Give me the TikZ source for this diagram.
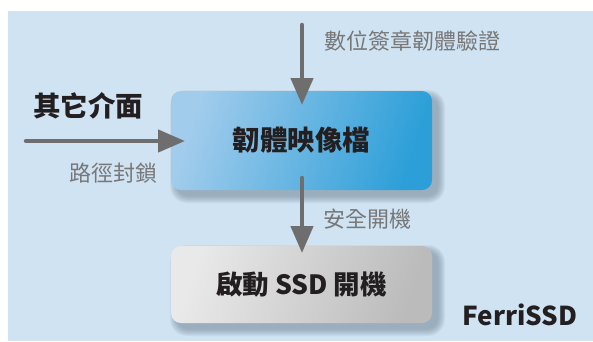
\documentclass[tikz,border=0pt]{standalone}
\usepackage{fontspec}
\setmainfont{Noto Sans CJK TC}
\usetikzlibrary{arrows.meta}
\definecolor{bgblue}{HTML}{D0E3F3}
\definecolor{boxlight}{HTML}{A2CCEC}
\definecolor{boxdark}{HTML}{2C9FD8}
\definecolor{graylight}{HTML}{E9E9E9}
\definecolor{graydark}{HTML}{BBBBBB}
\definecolor{arrowgray}{HTML}{6E6E6E}
\definecolor{labelgray}{HTML}{777777}
\definecolor{inkblack}{HTML}{231F20}
\definecolor{shadowcol}{HTML}{6F8294}
\tikzset{
  mainbox/.style={rounded corners=10pt, minimum width=261pt, minimum height=99pt, inner sep=0pt, text=inkblack, font=\bfseries\fontsize{27.5}{30}\selectfont},
  bluefill/.style={top color=boxlight, bottom color=boxdark, shading angle=72},
  grayfill/.style={top color=graylight, bottom color=graydark, shading angle=72},
  flowarrow/.style={draw=arrowgray, line width=4.5pt, line cap=round, -{Triangle[length=27pt,width=22pt]}},
  sidelabel/.style={text=labelgray, font=\fontsize{22}{24}\selectfont, inner sep=0pt},
  headlabel/.style={text=inkblack, font=\bfseries\fontsize{27.5}{30}\selectfont, inner sep=0pt},
}
\begin{document}
\begin{tikzpicture}[x=1pt,y=-1pt]
\useasboundingbox (0,0) rectangle (593,341);
\fill[white] (0,0) rectangle (593,341);
\fill[bgblue] (8,11) rectangle (593,341);
% shadows
\foreach \i in {0,...,7}{
  \fill[shadowcol, opacity=0.085, rounded corners={10pt+\i pt}] ({171+6-\i},{91+6-\i}) rectangle ({432+6+\i},{190+6+\i});
  \fill[shadowcol, opacity=0.085, rounded corners={10pt+\i pt}] ({171+6-\i},{246+6-\i}) rectangle ({432+6+\i},{323+6+\i});
}
\node[mainbox, bluefill] (fw) at (301.5,140.5) {韌體映像檔};
\node[mainbox, grayfill, minimum height=77pt, font=\bfseries\fontsize{26.5}{30}\selectfont] (boot) at (301.5,284.5) {啟動 SSD 開機};
% arrow endpoints
\coordinate (sigstart) at (302,25);
\coordinate (sigtip) at (302,105);
\coordinate (otherstart) at (26,141);
\coordinate (othertip) at (185,141);
\coordinate (bootstart) at (302,178);
\coordinate (boottip) at (302,253);
\draw[flowarrow] (sigstart) -- (sigtip);
\draw[flowarrow] (otherstart) -- (othertip);
\draw[flowarrow] (bootstart) -- (boottip);
% labels
\node[sidelabel] (siglabel) at (412,41) {數位簽章韌體驗證};
\node[headlabel] (otherlabel) at (88,106) {其它介面};
\node[sidelabel] (blocklabel) at (113.5,173) {路徑封鎖};
\node[sidelabel] (securelabel) at (367.5,219) {安全開機};
\node[headlabel, font=\bfseries\fontsize{26}{30}\selectfont] (brand) at (520,315) {FerriSSD};
\end{tikzpicture}
\end{document}
